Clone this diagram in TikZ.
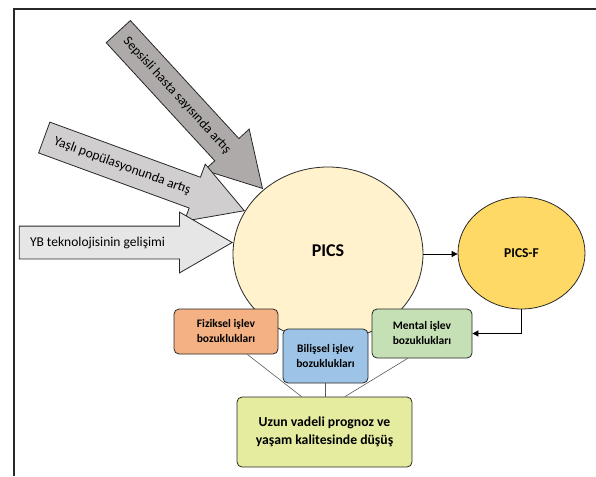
\documentclass[tikz,border=0pt]{standalone}
\usepackage{fontspec}
\setmainfont{Carlito}
\usetikzlibrary{shapes.geometric,shapes.arrows,arrows.meta,calc}

\definecolor{framegray}{RGB}{40,40,40}
\definecolor{sepsisgray}{RGB}{174,170,170}
\definecolor{agegray}{RGB}{208,206,206}
\definecolor{techgray}{RGB}{231,230,230}
\definecolor{picsyellow}{RGB}{255,242,204}
\definecolor{picsfgold}{RGB}{255,217,102}
\definecolor{physorange}{RGB}{244,177,131}
\definecolor{cogblue}{RGB}{157,195,230}
\definecolor{mentgreen}{RGB}{197,224,180}
\definecolor{outlime}{RGB}{229,236,160}

\tikzset{
	bigarrow/.style={single arrow, draw=framegray, line width=0.8pt,
		inner xsep=0pt, inner ysep=16pt,
		minimum height=213pt, minimum width=60pt,
		single arrow head extend=14pt, single arrow tip angle=60},
	arrowtext/.style={anchor=west, inner xsep=11pt, font=\fontsize{13.5}{15}\selectfont},
	dysfbox/.style={draw=framegray, rounded corners=5pt, line width=0.8pt, align=center,
		inner sep=0pt, font=\bfseries\fontsize{11.5}{15}\selectfont},
	thinlink/.style={draw={rgb,255:red,89;green,89;blue,89}, line width=0.6pt},
}

\begin{document}
\begin{tikzpicture}[x=1pt,y=-1pt]
	\useasboundingbox (0,0) rectangle (596,476);

	%Frame
	\draw [color=framegray, line width=1.3pt] (14,476) -- (14,9) -- (596,9);

	%Shape: Block arrows
	\node [bigarrow, fill=sepsisgray, rotate=-47.4, anchor=tip] (sepsis) at (263,189) {};
	\node [arrowtext, rotate=-47.4] (sepsistext) at (sepsis.tail) {Sepsisli hasta sayısında artış};
	\node [bigarrow, fill=agegray, rotate=-20.1, anchor=tip] (aging) at (245,211) {};
	\node [arrowtext, rotate=-20.1] (agingtext) at (aging.tail) {Yaşlı popülasyonunda artış};
	\node [bigarrow, fill=techgray, anchor=tip] (tech) at (233,242.5) {};
	\node [arrowtext] (techtext) at (tech.tail) {YB teknolojisinin gelişimi};

	%Shape: Ellipses
	\node [ellipse, draw=framegray, line width=0.8pt, fill=picsyellow, inner sep=0pt,
		minimum width=190pt, minimum height=174pt,
		font=\bfseries\fontsize{18}{20}\selectfont] (pics) at (328,254) {\raisebox{6pt}{PICS}};
	\node [ellipse, draw=framegray, line width=0.8pt, fill=picsfgold, inner sep=0pt,
		minimum width=127pt, minimum height=112pt,
		font=\bfseries\fontsize{13.5}{16}\selectfont] (picsf) at (521.5,253) {PICS-F};

	%Shape: Dysfunction boxes
	\node [dysfbox, fill=physorange, minimum width=104pt, minimum height=45pt] (phys) at (226,331.5) {Fiziksel işlev\\bozuklukları};
	\node [dysfbox, fill=cogblue, minimum width=85pt, minimum height=54pt] (cog) at (325.5,356) {Bilişsel işlev\\bozuklukları};
	\node [dysfbox, fill=mentgreen, minimum width=100pt, minimum height=49pt] (ment) at (422,333.5) {Mental işlev\\bozuklukları};
	\node [dysfbox, fill=outlime, minimum width=175pt, minimum height=70pt,
		font=\bfseries\fontsize{13.7}{17.5}\selectfont] (outcome) at (324.5,432) {Uzun vadeli prognoz ve\\yaşam kalitesinde düşüş};

	%Straight Lines
	\draw [line width=0.8pt, -{Triangle[length=6pt,width=6pt]}] (pics.east) -- (pics.east -| picsf.west);
	\draw [line width=0.8pt, -{Triangle[length=6pt,width=6pt]}] (picsf.south) |- (ment.east);
	\draw [thinlink] (phys.313) -- (outcome.123);
	\draw [thinlink] (cog.south) -- (cog.south |- outcome.north);
	\draw [thinlink] (ment.240) -- (outcome.60);
\end{tikzpicture}
\end{document}
